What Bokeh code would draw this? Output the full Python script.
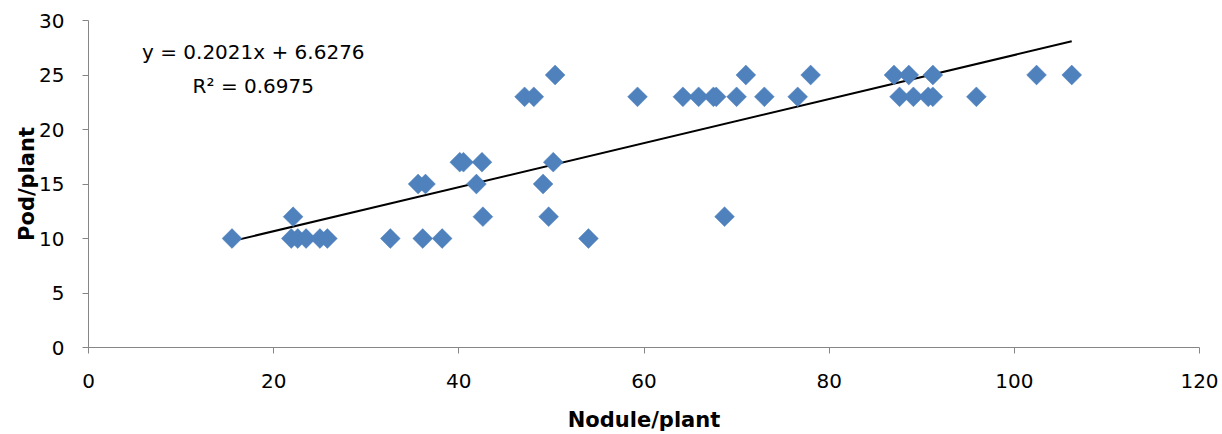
import numpy as np
from bokeh.plotting import figure
from bokeh.models import FixedTicker, Range1d, ColumnDataSource
from bokeh.core.properties import value
from bokeh.embed import file_html
from bokeh.resources import INLINE

# Data
nodule = [15.5, 21.9, 22.6, 23.5, 25.0, 25.8, 32.6, 36.1, 38.2, 54.0,
          22.1, 42.6, 49.7, 68.7,
          35.6, 36.4, 41.9, 49.1,
          40.1, 40.5, 42.5, 50.2,
          47.1, 48.1, 59.3, 64.2, 65.9, 67.5, 67.8, 70.0, 73.0, 76.6,
          87.6, 89.1, 90.7, 91.2, 95.9,
          50.4, 71.0, 78.0, 87.0, 88.6, 91.2, 102.4, 106.2]
pod = [10, 10, 10, 10, 10, 10, 10, 10, 10, 10,
       12, 12, 12, 12,
       15, 15, 15, 15,
       17, 17, 17, 17,
       23, 23, 23, 23, 23, 23, 23, 23, 23, 23,
       23, 23, 23, 23, 23,
       25, 25, 25, 25, 25, 25, 25, 25]
slope = 0.2021
intercept = 6.6276
eq_text = "y = 0.2021x + 6.6276"
r2_text = "R\u00b2 = 0.6975"
x_ticks = [0, 20, 40, 60, 80, 100, 120]
y_ticks = [0, 5, 10, 15, 20, 25, 30]

FONT = "DejaVu Sans"
AX = "#868686"

p = figure(width=1222, height=434, output_backend="svg", toolbar_location=None,
           x_range=Range1d(0, 120), y_range=Range1d(0, 30),
           min_border_left=88, min_border_right=23, min_border_top=20,
           min_border_bottom=86)
p.outline_line_color = None
p.xgrid.visible = False
p.ygrid.visible = False
p.background_fill_color = "white"
p.border_fill_color = "white"

for ax, ticks in ((p.xaxis[0], x_ticks), (p.yaxis[0], y_ticks)):
    ax.ticker = FixedTicker(ticks=ticks)
    ax.minor_tick_line_color = None
    ax.axis_line_color = AX
    ax.major_tick_line_color = AX
    ax.major_tick_in = 0
    ax.major_tick_out = 6
    ax.major_label_text_font = FONT
    ax.major_label_text_font_size = "20px"
    ax.major_label_text_color = "black"
    ax.axis_label_text_font = FONT
    ax.axis_label_text_font_style = "bold"
    ax.axis_label_text_font_size = "21px"
    ax.axis_label_text_color = "black"

p.xaxis.major_label_standoff = 20
p.yaxis.major_label_standoff = 18
p.xaxis.axis_label = "Nodule/plant"
p.yaxis.axis_label = "Pod/plant"
p.xaxis.axis_label_standoff = 17
p.yaxis.axis_label_standoff = -3

# trend line
xl = np.array([min(nodule), max(nodule)])
p.line(xl, slope * xl + intercept, line_color="black", line_width=2)

src = ColumnDataSource(dict(x=nodule, y=pod))
p.scatter("x", "y", source=src, marker="square", size=14, angle=np.pi / 4,
          fill_color="#4F81BD", line_color="#4F81BD", line_width=0.5)

p.text(x=[17.8, 17.8], y=[27.1, 24.0], text=[eq_text, r2_text],
       text_font=value(FONT), text_font_size="20px", text_color="black",
       text_align="center", text_baseline="middle")

open("out.html", "w").write(file_html(p, INLINE))
